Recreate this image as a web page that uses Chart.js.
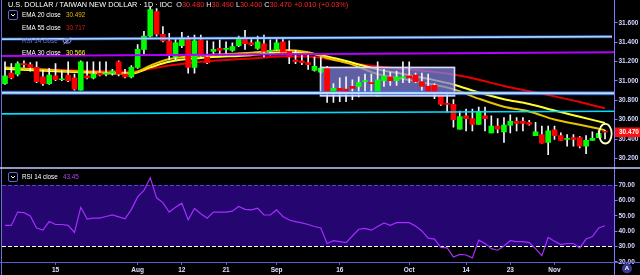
<!DOCTYPE html>
<html>
<head>
<meta charset="utf-8">
<script src="https://cdn.jsdelivr.net/npm/chart.js@4.4.1/dist/chart.umd.min.js"></script>
<style>
html,body{margin:0;padding:0;background:#000;width:640px;height:275px;overflow:hidden;}
canvas{display:block;position:absolute;left:0;}
#ca{top:0;}
#cb{top:169px;}
</style>
</head>
<body>
<canvas id="ca" width="640" height="169"></canvas>
<canvas id="cb" width="640" height="106"></canvas>
<script>
// ---------------- DATA ----------------
const categories = [
 'Jul 3','Jul 4','Jul 5','Jul 8','Jul 9','Jul 10','Jul 11','Jul 12','Jul 15','Jul 16','Jul 17','Jul 18','Jul 19','Jul 22','Jul 23','Jul 24','Jul 25','Jul 26','Jul 29','Jul 30','Jul 31',
 'Aug 1','Aug 2','Aug 5','Aug 6','Aug 7','Aug 8','Aug 9','Aug 12','Aug 13','Aug 14','Aug 15','Aug 16','Aug 19','Aug 20','Aug 21','Aug 22','Aug 23','Aug 26','Aug 27','Aug 28','Aug 29','Aug 30',
 'Sep 2','Sep 3','Sep 4','Sep 5','Sep 6','Sep 9','Sep 10','Sep 11','Sep 12','Sep 13','Sep 16','Sep 17','Sep 18','Sep 19','Sep 20','Sep 23','Sep 24','Sep 25','Sep 26','Sep 27','Sep 30',
 'Oct 1','Oct 2','Oct 3','Oct 4','Oct 7','Oct 8','Oct 9','Oct 10','Oct 11','Oct 14','Oct 15','Oct 16','Oct 17','Oct 18','Oct 21','Oct 22','Oct 23','Oct 24','Oct 25','Oct 28','Oct 29','Oct 30','Oct 31',
 'Nov 1','Nov 4','Nov 5','Nov 6','Nov 7','Nov 8','Nov 11','Nov 12','Nov 13'
];
const xTickCats   = ['Jul 15','Aug 1','Aug 12','Aug 21','Sep 2','Sep 16','Oct 1','Oct 14','Oct 23','Nov 1'];
const xTickLabels = ['15','Aug','12','21','Sep','16','Oct','14','23','Nov'];

const openP = [30.973,31.081,31.071,31.179,31.169,31.140,31.042,30.973,31.052,31.013,
31.061,31.032,30.905,31.052,31.032,31.081,31.071,31.081,31.199,31.071,
31.042,31.140,31.326,31.463,31.717,31.483,31.414,31.248,31.365,31.443,
31.140,31.424,31.248,31.306,31.336,31.326,31.316,31.365,31.434,31.394,
31.336,31.385,31.306,31.326,31.404,31.306,31.218,31.208,31.189,31.110,
31.091,31.140,30.876,30.924,30.915,30.944,30.944,30.993,30.983,30.846,
31.003,31.042,31.003,31.032,31.052,31.061,30.993,30.944,30.954,30.866,
30.768,30.758,30.503,30.641,30.611,30.552,30.641,30.464,30.533,30.474,
30.543,30.582,30.582,30.572,30.435,30.445,30.366,30.494,30.435,30.396,
30.415,30.415,30.327,30.386,30.415,30.480];
const highP = [31.199,31.179,31.199,31.208,31.189,31.199,31.110,31.130,31.179,31.101,
31.199,31.071,31.208,31.199,31.199,31.199,31.199,31.120,31.208,31.120,
31.159,31.375,31.512,31.766,31.747,31.561,31.492,31.434,31.502,31.463,
31.473,31.473,31.414,31.404,31.424,31.404,31.394,31.463,31.522,31.434,
31.463,31.473,31.424,31.434,31.443,31.414,31.316,31.277,31.267,31.248,
31.248,31.150,30.973,31.032,31.042,31.013,31.042,31.071,31.071,31.199,
31.120,31.091,31.101,31.199,31.199,31.081,31.081,31.071,30.973,30.885,
30.876,30.807,30.690,30.709,30.709,30.729,30.729,30.641,30.611,30.621,
30.650,30.621,30.621,30.592,30.572,30.533,30.533,30.533,30.464,30.445,
30.445,30.425,30.435,30.474,30.484,30.490];
const lowP = [30.964,31.022,31.052,31.140,31.101,30.983,30.954,30.964,31.003,31.003,
30.993,30.905,30.905,31.022,31.022,31.052,31.052,31.061,31.052,31.032,
31.032,31.130,31.277,31.453,31.463,31.404,31.218,31.218,31.345,31.081,
31.081,31.257,31.179,31.267,31.267,31.267,31.306,31.355,31.326,31.365,
31.326,31.248,31.267,31.316,31.287,31.179,31.179,31.169,31.120,31.101,
31.081,30.778,30.778,30.787,30.787,30.807,30.836,30.876,30.856,30.846,
30.944,30.954,30.954,30.983,30.983,30.983,30.905,30.876,30.817,30.748,
30.680,30.523,30.503,30.484,30.484,30.552,30.484,30.464,30.464,30.366,
30.464,30.484,30.484,30.543,30.435,30.357,30.239,30.396,30.386,30.327,
30.327,30.308,30.249,30.386,30.415,30.400];
const closeP = [31.052,31.032,31.179,31.169,31.140,30.993,30.973,31.061,31.013,31.022,
31.003,30.915,31.199,31.032,31.071,31.061,31.081,31.101,31.071,31.042,
31.140,31.326,31.463,31.737,31.483,31.414,31.267,31.394,31.443,31.140,
31.414,31.267,31.189,31.326,31.316,31.336,31.355,31.443,31.385,31.375,
31.404,31.306,31.316,31.394,31.297,31.248,31.199,31.189,31.169,31.150,
31.130,30.885,30.924,30.895,30.876,30.924,30.983,31.003,30.973,31.013,
31.052,31.003,31.042,31.042,31.032,30.993,30.944,30.876,30.876,30.758,
30.758,30.601,30.631,30.611,30.552,30.680,30.611,30.533,30.503,30.543,
30.582,30.562,30.562,30.552,30.474,30.357,30.484,30.435,30.386,30.406,
30.396,30.327,30.386,30.406,30.460,30.470];

// EMA values at these candle positions
const emaAt = [0,8,16,20,23,26,31,39,44,48,51,55,59,63,67,71,75,79,83,87,91,95];
const ema20 = [31.140,31.110,31.086,31.081,31.159,31.228,31.262,31.292,31.321,31.297,31.238,31.169,31.071,31.022,30.973,30.915,30.817,30.734,30.685,30.601,30.548,30.492];
const ema30 = [31.125,31.101,31.081,31.076,31.140,31.199,31.238,31.267,31.297,31.287,31.252,31.189,31.120,31.071,31.022,30.964,30.880,30.812,30.763,30.694,30.631,30.566];
const ema55 = [31.130,31.115,31.101,31.096,31.125,31.159,31.199,31.233,31.252,31.252,31.228,31.184,31.150,31.125,31.101,31.066,31.013,30.949,30.895,30.841,30.783,30.717];

const rsi14 = [43.7,43.7,52.4,52.0,49.9,42.0,40.6,46.2,44.3,44.3,
43.7,39.1,55.5,47.8,48.4,48.4,49.5,50.5,49.3,48.0,
54.0,62.3,66.5,74.8,61.7,58.6,52.4,55.5,58.2,47.4,
54.7,51.3,48.4,52.4,52.4,52.4,53.0,56.1,54.2,53.8,
54.9,50.5,50.5,53.8,49.5,47.2,46.2,45.3,44.3,43.0,
42.0,31.9,33.7,33.1,32.5,36.8,41.2,41.8,40.6,43.0,
45.3,43.7,45.5,45.5,45.5,43.3,40.1,35.4,34.8,29.4,
29.0,23.1,24.8,24.4,22.5,34.1,31.9,28.5,27.5,30.2,
33.7,33.1,33.1,32.5,28.5,24.0,35.8,33.3,31.2,31.9,
31.9,29.0,34.8,36.4,42.0,43.45];

const priceTicks = [30.2,30.4,30.6,30.8,31.0,31.2,31.4,31.6];
const rsiTicks = [20,30,40,50,60,70];
const rsiUpper = 70, rsiLower = 30;

// drawings (in data coordinates: candle index, price)
const trendLines = [
  {from:[-0.475,31.432], to:[96.1,31.458], color:'#a4d6ff', glow:'rgba(60,110,255,0.55)', w:1.6, gw:3.2},
  {from:[-0.475,31.258], to:[96.5,31.296], color:'#b400ff', glow:null, w:2, gw:0},
  {from:[-0.475,30.877], to:[96.5,30.872], color:'#b4e0ff', glow:'rgba(70,120,255,0.75)', w:2, gw:4},
  {from:[-0.475,30.660], to:[96.5,30.687], color:'#00dcff', glow:null, w:1.6, gw:0}
];
const rectBox = {from:49.95, to:71.17, top:31.140, bottom:30.846};
const ellipseMark = {at:95.05, price:30.455};

// ---------------- HELPERS ----------------
const FONT = '"Liberation Sans", Arial, sans-serif';
const xMin = -0.475, xMax = 96.5;
const lastI = closeP.length - 1;
const fmt3 = v => v.toFixed(3);

function seg(ctx, x, y, parts){
  for (const [t,c] of parts){ ctx.fillStyle = c; ctx.fillText(t, x, y); x += ctx.measureText(t).width; }
  return x;
}
function boxIcon(ctx, x, y){
  ctx.save();
  ctx.strokeStyle = '#5866d6'; ctx.lineWidth = 1;
  ctx.beginPath();
  if (ctx.roundRect) ctx.roundRect(x+0.5, y+0.5, 9, 9, 1.5); else ctx.rect(x+0.5, y+0.5, 9, 9);
  ctx.stroke();
  ctx.strokeStyle = '#ffffff'; ctx.lineWidth = 1;
  ctx.beginPath(); ctx.moveTo(x+3, y+4); ctx.lineTo(x+5, y+6); ctx.lineTo(x+7, y+4); ctx.stroke();
  ctx.restore();
}
function eyeIcon(ctx, cx, cy){
  ctx.save();
  ctx.strokeStyle = '#8c9be6'; ctx.lineWidth = 1;
  ctx.beginPath(); ctx.ellipse(cx, cy, 4, 2.4, 0, 0, Math.PI*2); ctx.stroke();
  ctx.beginPath(); ctx.arc(cx, cy, 1.2, 0, Math.PI*2); ctx.stroke();
  ctx.beginPath(); ctx.moveTo(cx-3.5, cy+3.5); ctx.lineTo(cx+3.5, cy-3.5); ctx.stroke();
  ctx.restore();
}
function vline(ctx, x, y1, y2, color, w){
  ctx.save(); ctx.strokeStyle = color; ctx.lineWidth = w;
  ctx.beginPath(); ctx.moveTo(x, y1); ctx.lineTo(x, y2); ctx.stroke(); ctx.restore();
}
function hline(ctx, y, x1, x2, color, w){
  ctx.save(); ctx.strokeStyle = color; ctx.lineWidth = w;
  ctx.beginPath(); ctx.moveTo(x1, y); ctx.lineTo(x2, y); ctx.stroke(); ctx.restore();
}

// ---------------- PRICE PANEL ----------------
const overlayA = {
  id: 'overlayA',
  beforeDatasetDraw(chart, args){
    if (args.index !== 3) return;
    const {ctx} = chart, sx = chart.scales.x, sy = chart.scales.y;
    const x1 = sx.getPixelForValue(rectBox.from), x2 = sx.getPixelForValue(rectBox.to);
    const y1 = sy.getPixelForValue(rectBox.top), y2 = sy.getPixelForValue(rectBox.bottom);
    ctx.save();
    ctx.fillStyle = 'rgba(128,128,220,0.74)';
    ctx.fillRect(x1, y1, x2-x1, y2-y1);
    ctx.restore();
  },
  afterDatasetsDraw(chart){
    const {ctx} = chart, sx = chart.scales.x, sy = chart.scales.y;
    ctx.save();
    const x1 = sx.getPixelForValue(rectBox.from), x2 = sx.getPixelForValue(rectBox.to);
    const y1 = sy.getPixelForValue(rectBox.top), y2 = sy.getPixelForValue(rectBox.bottom);
    ctx.strokeStyle = '#dcdcff'; ctx.lineWidth = 1.6;
    ctx.strokeRect(x1, y1, x2-x1, y2-y1);
    for (const l of trendLines){
      const ax = sx.getPixelForValue(l.from[0]), ay = sy.getPixelForValue(l.from[1]);
      const bx = sx.getPixelForValue(l.to[0]), by = sy.getPixelForValue(l.to[1]);
      if (l.glow){
        ctx.strokeStyle = l.glow; ctx.lineWidth = l.gw;
        ctx.beginPath(); ctx.moveTo(ax, ay); ctx.lineTo(bx, by); ctx.stroke();
      }
      ctx.strokeStyle = l.color; ctx.lineWidth = l.w;
      ctx.beginPath(); ctx.moveTo(ax, ay); ctx.lineTo(bx, by); ctx.stroke();
    }
    const ex = sx.getPixelForValue(ellipseMark.at), ey = sy.getPixelForValue(ellipseMark.price);
    ctx.strokeStyle = '#ffffc4'; ctx.lineWidth = 1.8;
    ctx.beginPath(); ctx.ellipse(ex, ey, 6.3, 9.8, 0, 0, Math.PI*2); ctx.stroke();
    ctx.restore();
  },
  afterDraw(chart){
    const {ctx} = chart, sy = chart.scales.y;
    ctx.save();
    vline(ctx, 614.5, 0, 169, '#7b7bff', 1);
    vline(ctx, 1.5, 0, 169, '#6a70e0', 1);
    hline(ctx, 168, 0, 640, '#c6caff', 1.5);
    const py = sy.getPixelForValue(closeP[lastI]);
    ctx.fillStyle = '#ff1010';
    ctx.fillRect(615, py-4.8, 25, 9.6);
    ctx.fillStyle = '#ffffff';
    ctx.font = 'bold 6.5px ' + FONT; ctx.textBaseline = 'middle'; ctx.textAlign = 'left';
    ctx.fillText(fmt3(closeP[lastI]), 619, py+0.3);
    const chg = closeP[lastI] - closeP[lastI-1];
    const pct = chg / closeP[lastI-1] * 100;
    const sgn = chg >= 0 ? '+' : '-';
    ctx.font = '7.3px ' + FONT;
    const red = '#ff2424', lab = '#e4e8ff';
    seg(ctx, 8, 4.8, [
      ['U.S. DOLLAR / TAIWAN NEW DOLLAR \u00b7 1D \u00b7 IDC  ', '#ffffff'],
      ['O', lab], [fmt3(openP[lastI]), red],
      [' H', lab], [fmt3(highP[lastI]), red],
      [' L', lab], [fmt3(lowP[lastI]), red],
      [' C', lab], [fmt3(closeP[lastI]), red],
      [' ' + sgn + Math.abs(chg).toFixed(3) + ' (' + sgn + Math.abs(pct).toFixed(2) + '%)', red]
    ]);
    ctx.font = '6.3px ' + FONT;
    boxIcon(ctx, 8, 10);
    ctx.fillStyle = '#ffffff'; ctx.fillText('EMA 20 close', 22, 15.2);
    ctx.fillStyle = '#f0b800'; ctx.fillText(fmt3(ema20[ema20.length-1]), 66, 15.2);
    ctx.fillStyle = '#ffffff'; ctx.fillText('EMA 55 close', 22, 28.3);
    ctx.fillStyle = '#e81414'; ctx.fillText(fmt3(ema55[ema55.length-1]), 66, 28.3);
    ctx.fillStyle = '#6c74c8'; ctx.fillText('RSI 14 close', 22, 40.8);
    eyeIcon(ctx, 67, 40.8);
    ctx.fillStyle = '#ffffff'; ctx.fillText('EMA 30 close', 22, 53.4);
    ctx.fillStyle = '#ffff22'; ctx.fillText(fmt3(ema30[ema30.length-1]), 66, 53.4);
    ctx.restore();
  }
};

const emaData = arr => emaAt.map((k, j) => ({x: k, y: arr[j]}));
const lineDs = (label, arr, color, w) => ({
  type:'line', label, data: emaData(arr), borderColor: color, borderWidth: w,
  pointRadius: 0, cubicInterpolationMode: 'monotone', fill: false, order: 3
});

new Chart(document.getElementById('ca'), {
  type: 'bar',
  data: {
    datasets: [
      lineDs('EMA 20 close', ema20, '#e8c400', 2),
      lineDs('EMA 30 close', ema30, '#ffff30', 2),
      lineDs('EMA 55 close', ema55, '#e80000', 2),
      {type:'bar', label:'wick', data: categories.map((c,i)=>({x:i, y:[lowP[i], highP[i]]})),
        backgroundColor:'#f4f4ff', barThickness:1, grouped:false, borderWidth:0, order:2},
      {type:'bar', label:'body', data: categories.map((c,i)=>({x:i, y:[openP[i], closeP[i]]})),
        backgroundColor: c => closeP[c.dataIndex] >= openP[c.dataIndex] ? '#00ff00' : '#ff0000',
        barThickness:5, minBarLength:1, grouped:false, borderWidth:0, order:1}
    ]
  },
  options: {
    responsive:false, animation:false, devicePixelRatio:1, events:[],
    layout:{padding:{left:2, right:0, top:0, bottom:1}},
    plugins:{legend:{display:false}, tooltip:{enabled:false}},
    scales:{
      x:{type:'linear', min:xMin, max:xMax, offset:false, display:false},
      y:{position:'right', min:30.141, max:31.786,
        afterBuildTicks: s => { s.ticks = priceTicks.map(v => ({value:v})); },
        afterFit: s => { s.width = 25.5; },
        ticks:{color:'#d2d6ff', font:{family:FONT, size:6.5, weight:'bold'}, padding:1, callback: v => Number(v).toFixed(3)},
        grid:{drawOnChartArea:false, tickLength:3, color:'#7b7bff'},
        border:{display:true, color:'#7b7bff', width:1}
      }
    }
  },
  plugins:[overlayA]
});

// ---------------- RSI PANEL ----------------
const xTickIdx = xTickCats.map(c => categories.indexOf(c));

const overlayB = {
  id:'overlayB',
  beforeDatasetsDraw(chart){
    const {ctx, chartArea:a} = chart, sy = chart.scales.y;
    const y70 = sy.getPixelForValue(rsiUpper), y30 = sy.getPixelForValue(rsiLower);
    ctx.save();
    ctx.fillStyle = '#25056f';
    ctx.fillRect(a.left, y70, a.right - a.left, y30 - y70);
    ctx.setLineDash([4,2]); ctx.lineWidth = 1;
    ctx.strokeStyle = '#5a3ed8';
    ctx.beginPath(); ctx.moveTo(a.left, Math.round(y70)+0.5); ctx.lineTo(a.right, Math.round(y70)+0.5); ctx.stroke();
    ctx.strokeStyle = '#ffffff';
    ctx.beginPath(); ctx.moveTo(a.left, Math.round(y30)+0.5); ctx.lineTo(a.right, Math.round(y30)+0.5); ctx.stroke();
    ctx.restore();
  },
  afterDraw(chart){
    const {ctx, chartArea:a} = chart;
    ctx.save();
    vline(ctx, 614.5, 0, 106, '#7b7bff', 1);
    vline(ctx, 1.5, 0, 106, '#6a70e0', 1);
    hline(ctx, a.bottom + 0.5, 0, 640, '#5c5cd8', 1);
    boxIcon(ctx, 8, 3);
    ctx.font = '6.3px ' + FONT; ctx.textBaseline = 'middle'; ctx.textAlign = 'left';
    ctx.fillStyle = '#ffffff'; ctx.fillText('RSI 14 close', 22, 8);
    ctx.fillStyle = '#b046ff'; ctx.fillText(rsi14[lastI].toFixed(2), 63, 8);
    ctx.fillStyle = '#38398e';
    ctx.beginPath(); ctx.arc(627, 99.5, 5, 0, Math.PI*2); ctx.fill();
    ctx.fillStyle = '#ffffff'; ctx.font = 'bold 6px ' + FONT; ctx.textAlign = 'center';
    ctx.fillText('A', 627, 99.8);
    ctx.restore();
  }
};

new Chart(document.getElementById('cb'), {
  type: 'line',
  data: {
    datasets: [{
      label:'RSI 14 close', data: categories.map((c,i)=>({x:i, y:rsi14[i]})),
      borderColor:'#a42eff', borderWidth:1.2, pointRadius:0, tension:0, fill:false
    }]
  },
  options: {
    responsive:false, animation:false, devicePixelRatio:1, events:[],
    layout:{padding:{left:2, right:0, top:1, bottom:0}},
    plugins:{legend:{display:false}, tooltip:{enabled:false}},
    scales:{
      x:{type:'linear', position:'bottom', min:xMin, max:xMax, offset:false,
        afterBuildTicks: s => { s.ticks = xTickIdx.map(v => ({value:v})); },
        afterFit: s => { s.height = 13; },
        ticks:{autoSkip:false, maxRotation:0, color:'#dde0ff', padding:1,
          font:{family:FONT, size:6.5, weight:'bold'},
          callback: (v, i) => xTickLabels[i]},
        grid:{drawOnChartArea:false, tickLength:3, color:'#5c5cd8'},
        border:{display:true, color:'#5c5cd8'}
      },
      y:{position:'right', min:19.81, max:77.31,
        afterBuildTicks: s => { s.ticks = rsiTicks.map(v => ({value:v})); },
        afterFit: s => { s.width = 25.5; },
        ticks:{color:'#d2d6ff', font:{family:FONT, size:6.5, weight:'bold'}, padding:1, callback: v => Number(v).toFixed(2)},
        grid:{drawOnChartArea:false, tickLength:3, color:'#7b7bff'},
        border:{display:true, color:'#7b7bff', width:1}
      }
    }
  },
  plugins:[overlayB]
});
</script>
</body>
</html>
